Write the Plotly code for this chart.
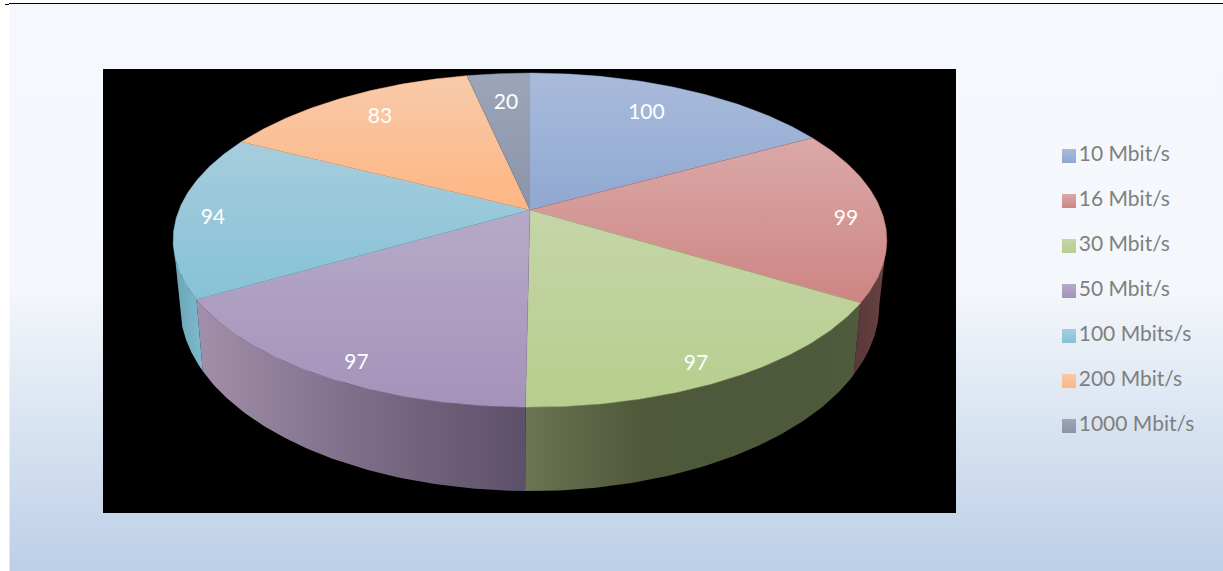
"""3D-look pie of connection speeds, projected by hand onto a pixel-sized axis."""

import numpy as np
import plotly.graph_objects as go

WIDTH, HEIGHT = 1223, 571
FONT = "Lato"

categories = ["10 Mbit/s", "16 Mbit/s", "30 Mbit/s", "50 Mbit/s", "100 Mbits/s", "200 Mbit/s", "1000 Mbit/s"]
values = [100, 99, 97, 97, 94, 83, 20]

top_colors = [
    ("#A9BBDA", "#8FA8D2"),
    ("#DBA9A8", "#CC8583"),
    ("#C6D5A8", "#B6CE8D"),
    ("#B6AAC8", "#A592BA"),
    ("#A6CDDD", "#86C2D6"),
    ("#F8CAAA", "#FDB683"),
    ("#9DA5B8", "#8A94A9"),
]
side_scales = {
    1: [[0, "#5A3738"], [1, "#674243"]],
    2: [[0, "#6A7553"], [0.35, "#4F583A"], [0.85, "#4E583A"], [1, "#515B3D"]],
    3: [[0, "#A28FAA"], [0.5, "#7D6D88"], [1, "#5D5069"]],
    4: [[0, "#6AA3B3"], [1, "#7CBBCF"]],
}
label_radius = [0.79, 0.9, 0.92, 0.92, 0.9, 0.82, 0.76]
label_dx = [-9, -1, -17, 16, 0, 7, 1]
label_dy = [2, 7, 3, 4, 5, 2, 1]

# perspective of the disc, in page pixels
TILT = 0.18
TOP = dict(cx=530, y0=210, fx=351, gy=161.6)
BOTTOM = dict(cx=529.6, y0=271.5, fx=344, gy=180)
EDGE_ANGLE = np.degrees(np.arccos(-TILT))  # where the rim stops being visible

LEGEND_X = 1069
LEGEND_Y0 = 156
LEGEND_STEP = 45


def project(angle_deg, r=1.0, face=TOP):
    a = np.radians(angle_deg)
    X, Y = r * np.sin(a), -r * np.cos(a)
    d = 1 - TILT * Y
    return face["cx"] + face["fx"] * X / d, face["y0"] + face["gy"] * Y / d


def flipped(stops):
    # the y axis runs downwards, fillgradient works in data direction
    return [[1 - p, c] for p, c in reversed(stops)]


angles = np.cumsum([0] + values) / sum(values) * 360

fig = go.Figure()


def add_fill(x, y, colorscale, kind, line_width=0.5):
    line_color = colorscale[len(colorscale) // 2][1]
    if kind == "vertical":
        colorscale = flipped(colorscale)
    fig.add_trace(go.Scatter(
        x=x, y=y, mode="lines", fill="toself",
        line=dict(color=line_color, width=line_width),
        fillgradient=dict(type=kind, colorscale=colorscale),
        hoverinfo="skip", showlegend=False,
    ))


# slide background and black plot panel
add_fill([9.5, WIDTH, WIDTH, 9.5], [3.5, 3.5, HEIGHT, HEIGHT],
         [[0, "#F5F9FD"], [0.5, "#F4F7FB"], [1, "#BCCFE7"]], "vertical", 0)
fig.add_trace(go.Scatter(
    x=[103, 956, 956, 103], y=[69, 69, 513, 513], mode="lines", fill="toself",
    fillcolor="#000000", line=dict(width=0), hoverinfo="skip", showlegend=False,
))

# rim of the slices facing the viewer
for i, scale in side_scales.items():
    start = max(angles[i], EDGE_ANGLE)
    stop = min(angles[i + 1], 360 - EDGE_ANGLE)
    arc = np.linspace(start, stop, 80)
    tx, ty = project(arc, face=TOP)
    bx, by = project(arc, face=BOTTOM)
    add_fill(np.r_[tx, bx[::-1]], np.r_[ty, by[::-1]], scale, "horizontal", 0)

# top faces
for i, (c0, c1) in enumerate(top_colors):
    arc = np.linspace(angles[i], angles[i + 1], 90)
    tx, ty = project(arc)
    add_fill(np.r_[TOP["cx"], tx], np.r_[TOP["y0"], ty], [[0, c0], [1, c1]], "vertical")

# data labels
mid = (angles[:-1] + angles[1:]) / 2
lx, ly = project(mid, np.array(label_radius))
fig.add_trace(go.Scatter(
    x=lx + np.array(label_dx), y=ly + np.array(label_dy), mode="text", text=[str(v) for v in values],
    textfont=dict(family=FONT, size=21, color="#FFFFFF"),
    hoverinfo="skip", showlegend=False,
))

# legend column on the right
fig.add_trace(go.Scatter(
    x=[LEGEND_X] * len(categories),
    y=[LEGEND_Y0 + LEGEND_STEP * i for i in range(len(categories))],
    mode="markers+text", text=categories, textposition="middle right",
    textfont=dict(family=FONT, size=21, color="#7F7F7F"),
    marker=dict(
        symbol="square", size=14, line=dict(width=0),
        color=[c[0] for c in top_colors],
        gradient=dict(type="vertical", color=[c[1] for c in top_colors]),
    ),
    hoverinfo="skip", showlegend=False,
))

fig.update_layout(
    width=WIDTH, height=HEIGHT, margin=dict(l=0, r=0, t=0, b=0),
    paper_bgcolor="#FFFFFF", plot_bgcolor="rgba(0,0,0,0)", showlegend=False,
    xaxis=dict(range=[0, WIDTH], visible=False, fixedrange=True),
    yaxis=dict(range=[HEIGHT, 0], visible=False, fixedrange=True),
    shapes=[
        dict(type="line", xref="x", yref="y", x0=9, x1=WIDTH, y0=3.5, y1=3.5,
             line=dict(color="#000000", width=1), layer="above"),
        dict(type="line", xref="x", yref="y", x0=5, x1=9, y0=4.5, y1=4.5,
             line=dict(color="#000000", width=1), layer="above"),
    ],
)

fig.write_html(
    "out.html", config=dict(displayModeBar=False),
    post_script="document.body.style.margin='0';document.body.style.overflow='hidden';",
)
